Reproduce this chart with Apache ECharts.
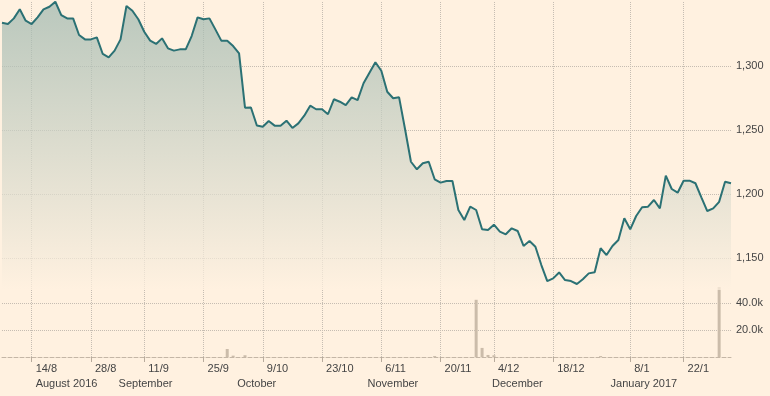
<!DOCTYPE html>
<html><head><meta charset="utf-8">
<script src="https://cdn.jsdelivr.net/npm/echarts@6/dist/echarts.min.js"></script>
<style>html,body{margin:0;padding:0;background:#fff1e0}#c{width:770px;height:396px}</style>
</head><body><div id="c"></div>
<script>
// Trading days (categories)
const dates = [
'2016-08-08','2016-08-09','2016-08-10','2016-08-11','2016-08-12',
'2016-08-15','2016-08-16','2016-08-17','2016-08-18','2016-08-19',
'2016-08-22','2016-08-23','2016-08-24','2016-08-25','2016-08-26',
'2016-08-29','2016-08-30','2016-08-31','2016-09-01','2016-09-02',
'2016-09-06','2016-09-07','2016-09-08','2016-09-09',
'2016-09-12','2016-09-13','2016-09-14','2016-09-15','2016-09-16',
'2016-09-19','2016-09-20','2016-09-21','2016-09-22','2016-09-23',
'2016-09-26','2016-09-27','2016-09-28','2016-09-29','2016-09-30',
'2016-10-03','2016-10-04','2016-10-05','2016-10-06','2016-10-07',
'2016-10-10','2016-10-11','2016-10-12','2016-10-13','2016-10-14',
'2016-10-17','2016-10-18','2016-10-19','2016-10-20','2016-10-21',
'2016-10-24','2016-10-25','2016-10-26','2016-10-27','2016-10-28',
'2016-10-31','2016-11-01','2016-11-02','2016-11-03','2016-11-04',
'2016-11-07','2016-11-08','2016-11-09','2016-11-10','2016-11-11',
'2016-11-14','2016-11-15','2016-11-16','2016-11-17','2016-11-18',
'2016-11-21','2016-11-22','2016-11-23','2016-11-25',
'2016-11-28','2016-11-29','2016-11-30','2016-12-01','2016-12-02',
'2016-12-05','2016-12-06','2016-12-07','2016-12-08','2016-12-09',
'2016-12-12','2016-12-13','2016-12-14','2016-12-15','2016-12-16',
'2016-12-19','2016-12-20','2016-12-21','2016-12-22','2016-12-23',
'2016-12-27','2016-12-28','2016-12-29','2016-12-30',
'2017-01-03','2017-01-04','2017-01-05','2017-01-06',
'2017-01-09','2017-01-10','2017-01-11','2017-01-12','2017-01-13',
'2017-01-17','2017-01-18','2017-01-19','2017-01-20',
'2017-01-23','2017-01-24','2017-01-25','2017-01-26','2017-01-27',
'2017-01-30','2017-01-31','2017-02-01','2017-02-02'
];

// Price series
const prices = [
1333.8,1332.8,1337.2,1344.3,1335.4,
1332.8,1338.0,1344.3,1346.3,1350.2,
1339.8,1337.2,1337.2,1324.2,1320.8,
1320.8,1322.4,1309.4,1306.8,1312.0,
1320.8,1346.9,1343.2,1336.5,
1326.8,1319.8,1317.2,1321.6,1313.8,
1312.0,1313.0,1313.0,1323.4,1338.0,
1336.5,1337.2,1328.6,1319.8,1319.8,
1315.6,1309.9,1267.4,1267.6,1253.5,
1252.6,1257.0,1253.4,1253.4,1257.3,
1251.6,1255.2,1261.2,1269.0,1266.2,
1266.2,1262.3,1274.0,1272.1,1269.5,
1275.5,1273.4,1286.5,1294.8,1302.9,
1296.3,1279.9,1274.8,1275.5,1250.8,
1225.2,1219.3,1224.0,1225.2,1211.5,
1208.9,1210.2,1210.2,1187.5,
1179.7,1190.1,1187.5,1172.5,1171.9,
1176.0,1170.6,1168.5,1173.2,1171.1,
1159.4,1163.3,1158.8,1144.5,1132.0,
1134.1,1138.7,1132.8,1132.0,1129.7,
1133.4,1138.0,1138.9,1157.6,
1152.3,1159.4,1164.1,1181.0,
1172.4,1182.8,1189.6,1190.1,1195.3,
1188.8,1214.3,1203.9,1201.0,
1210.4,1210.4,1208.4,1197.4,1186.7,
1188.8,1193.9,1209.6,1208.4
];

// Volume series
const volumes = [
0,0,0,0,0,0,0,0,0,0,
0,0,0,0,0,0,0,0,0,0,
0,0,0,0,0,0,0,0,0,0,
0,0,0,0,0,0,0,0,5900,1000,
0,1300,0,0,0,0,0,0,0,0,
0,0,0,0,0,0,0,0,0,0,
0,0,0,0,0,0,0,0,0,0,
0,0,0,700,0,0,0,0,0,0,
42200,6700,1500,1300,0,0,0,0,0,0,
0,0,0,0,0,0,0,0,0,0,
0,700,0,0,0,0,0,0,0,0,
0,0,0,0,0,0,0,0,0,0,
0,51600,0,0
];

// Tick labels (Sunday dates) and month labels
const tickLabels = ['14/8','28/8','11/9','25/9','9/10','23/10','6/11','20/11','4/12','18/12','8/1','22/1'];
const monthLabelDates = ['2016-08-15','2016-09-02','2016-10-03','2016-11-02','2016-12-02','2017-01-03'];
const monthLabelTexts = ['August 2016','September','October','November','December','January 2017'];

function labelToDate(l){
  const p = l.split('/').map(Number);
  const y = p[1] >= 8 ? 2016 : 2017;
  return y + '-' + String(p[1]).padStart(2,'0') + '-' + String(p[0]).padStart(2,'0');
}
const tickMap = {};
tickLabels.forEach(l => {
  const ld = labelToDate(l);
  const i = dates.findIndex(d => d > ld);
  if (i >= 0) tickMap[i] = l;
});
const monthMap = {};
monthLabelDates.forEach((d,k) => { const i = dates.indexOf(d); if (i >= 0) monthMap[i] = monthLabelTexts[k]; });

const FONT = 'Liberation Sans, Arial, sans-serif';
const TXT = '#444';
const GRID = '#c6bdb2';
const isTick = (i) => Object.prototype.hasOwnProperty.call(tickMap, i);
const isMonth = (i) => Object.prototype.hasOwnProperty.call(monthMap, i);
const fmtComma = v => String(v).replace(/\B(?=(\d{3})+(?!\d))/g, ',');

const chart = echarts.init(document.getElementById('c'), null, {renderer:'canvas'});
chart.setOption({
  backgroundColor: '#fff1e0',
  animation: false,
  grid: [
    {left: 2, right: 39, top: 2, height: 288},
    {left: 2, right: 39, top: 280, bottom: 39}
  ],
  xAxis: [
    {type:'category', gridIndex:0, data:dates, boundaryGap:false,
     axisLine:{show:false}, axisTick:{show:false}, axisLabel:{show:false},
     splitLine:{show:true, interval:(i)=>isTick(i), lineStyle:{color:GRID, type:'dotted', width:1}}},
    {type:'category', gridIndex:1, data:dates, boundaryGap:false,
     axisLine:{show:true, lineStyle:{color:'#c4b6a6', type:'dashed', width:1}},
     axisTick:{show:true, interval:(i)=>isTick(i), length:5, lineStyle:{color:'#b8ab9c'}},
     axisLabel:{interval:(i)=>isTick(i), formatter:(v,i)=>tickMap[i] || '', align:'left', padding:[0,0,0,4],
                margin:6, color:TXT, fontSize:11, fontFamily:FONT},
     splitLine:{show:true, interval:(i)=>isTick(i), lineStyle:{color:GRID, type:'dotted', width:1}}},
    {type:'category', gridIndex:1, data:dates, boundaryGap:false, position:'bottom', offset:15,
     axisLine:{show:false}, axisTick:{show:false}, splitLine:{show:false},
     axisLabel:{interval:(i)=>isMonth(i), formatter:(v,i)=>monthMap[i] || '', align:'left', padding:[0,0,0,4],
                margin:6, color:TXT, fontSize:11, fontFamily:FONT}}
  ],
  yAxis: [
    {type:'value', gridIndex:0, position:'right', min:1125, max:1350, splitNumber:5,
     axisLine:{show:false}, axisTick:{show:false},
     axisLabel:{showMinLabel:false, showMaxLabel:false, margin:5, color:TXT, fontSize:11, fontFamily:FONT, formatter:fmtComma},
     splitLine:{show:true, showMinLine:false, showMaxLine:false, lineStyle:{color:GRID, type:'dotted', width:1}}},
    {type:'value', gridIndex:1, position:'right', min:0, max:56800, interval:20000,
     axisLine:{show:false}, axisTick:{show:false},
     axisLabel:{showMinLabel:false, showMaxLabel:false, margin:5, color:TXT, fontSize:11, fontFamily:FONT,
                formatter:v=>(v/1000).toFixed(1)+'k'},
     splitLine:{show:true, showMinLine:false, showMaxLine:false, lineStyle:{color:GRID, type:'dotted', width:1}}}
  ],
  series: [
    {type:'line', xAxisIndex:0, yAxisIndex:0, data:prices, symbol:'none', clip:false,
     lineStyle:{color:'#2b7174', width:2},
     areaStyle:{origin:'start', color:new echarts.graphic.LinearGradient(0,0,0,1,[
       {offset:0, color:'#9cb6ae'}, {offset:1, color:'#fff1e0'}])}},
    {type:'bar', xAxisIndex:1, yAxisIndex:1, data:volumes, barWidth:3,
     itemStyle:{color:'#cbbcaa'}}
  ]
});
</script></body></html>
